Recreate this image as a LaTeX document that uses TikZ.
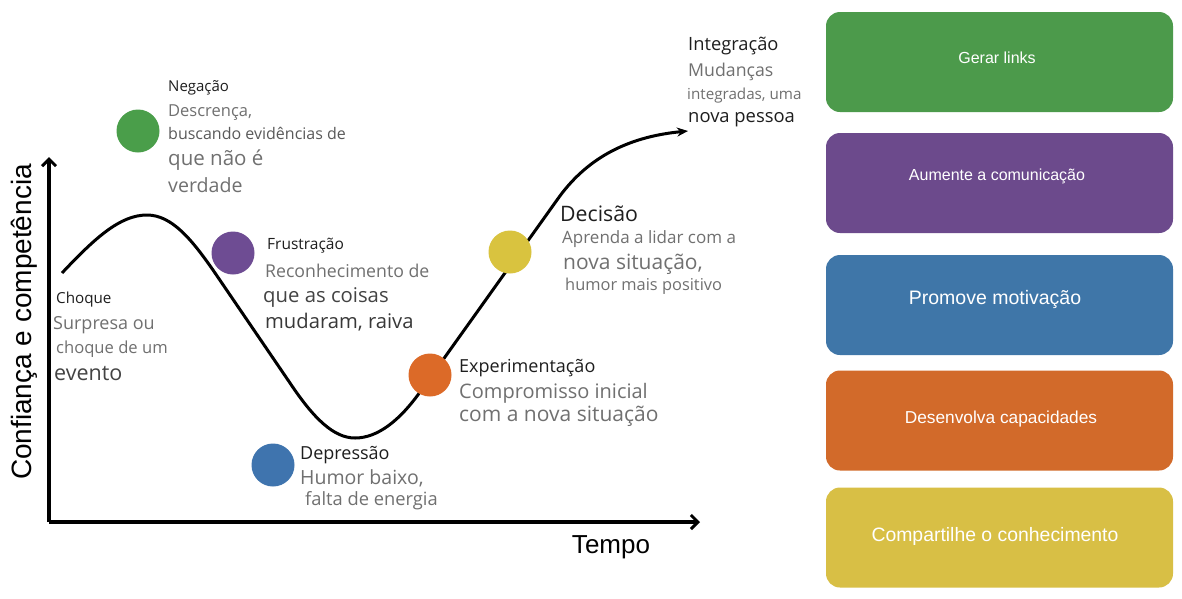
\documentclass[tikz,border=0pt]{standalone}
\usepackage{fontspec}
\setmainfont{Open Sans}
\newfontfamily\arialf{Liberation Sans}
\usetikzlibrary{arrows.meta}
\definecolor{cgreen}{HTML}{4C9A4B}
\definecolor{cpurple}{HTML}{6C4A8C}
\definecolor{cblue}{HTML}{3F76A8}
\definecolor{corange}{HTML}{D26A2A}
\definecolor{cyellow}{HTML}{D8BF45}
\definecolor{dgreen}{HTML}{4A9E4A}
\definecolor{dpurple}{HTML}{6E4C93}
\definecolor{dblue}{HTML}{3F74AE}
\definecolor{dorange}{HTML}{DC6A28}
\definecolor{dyellow}{HTML}{D9C33F}
\definecolor{titlec}{HTML}{1E1E1E}
\definecolor{descc}{HTML}{707070}
\newcommand\myfs[1]{\fontsize{#1}{#1}\selectfont}
\begin{document}
\begin{tikzpicture}[x=1pt,y=-1pt]
\useasboundingbox[fill=white] (0,0) rectangle (1182,598);
\tikzset{
  lbl/.style={anchor=west, inner sep=0pt, text=titlec},
  dsc/.style={anchor=west, inner sep=0pt, text=descc},
  dot/.style={circle, minimum size=43pt, inner sep=0pt},
  card/.style={rounded corners=14pt, minimum width=347pt, minimum height=100pt, inner sep=0pt},
  cardtxt/.style={text=white, inner sep=0pt, font=\arialf},
  axis/.style={line width=3.5pt, -{Straight Barb[length=7pt,width=14pt,line width=3pt]}},
  curve/.style={line width=3pt, line join=round, -{Stealth[length=11pt,width=9pt]}},
}
% right cards
\node[card, fill=cgreen]  (c1) at (999.5,62)  {};
\node[card, fill=cpurple] (c2) at (999.5,183) {};
\node[card, fill=cblue]   (c3) at (999.5,305) {};
\node[card, fill=corange] (c4) at (999.5,420.5) {};
\node[card, fill=cyellow] (c5) at (999.5,537.5) {};
\node[cardtxt] (t1) at (997,58)  {\myfs{16}Gerar links};
\node[cardtxt] (t2) at (997,176)  {\myfs{16}Aumente a comunicação};
\node[cardtxt] (t3) at (995,299)  {\myfs{19.5}Promove motivação};
\node[cardtxt] (t4) at (1001,419) {\myfs{17.3}Desenvolva capacidades};
\node[cardtxt] (t5) at (995,536)  {\myfs{19.4}Compartilhe o conhecimento};

% axes
\coordinate (o) at (49,522);
\coordinate (ytop) at (49,157);
\coordinate (xend) at (700,522);
\draw[axis] (o) -- (ytop);
\draw[axis] (o) -- (xend);
\node[rotate=90, inner sep=0pt, font=\arialf] (ylab) at (24,322) {\myfs{28}Confiança e competência};
\node[inner sep=0pt, font=\arialf] (xlab) at (611,547) {\myfs{26}Tempo};

% curve
\coordinate (cs) at (62,273);
\coordinate (cpeak) at (147,215);
\coordinate (cdown) at (213,270);
\coordinate (cdown2) at (290,383);
\coordinate (ctrough) at (355,438);
\coordinate (cup) at (420,392);
\coordinate (cup2) at (557,200);
\coordinate (ce) at (688,131);
\draw[curve] (cs) .. controls (95,238) and (120,215) .. (cpeak)
  .. controls (172,215) and (192,240) .. (cdown) -- (cdown2)
  .. controls (314,419) and (334,438) .. (ctrough)
  .. controls (378,438) and (400,420) .. (cup) -- (cup2)
  .. controls (585,160) and (625,137) .. (ce);

% circles
\node[dot, fill=dgreen]  (n1) at (138,131) {};
\node[dot, fill=dpurple] (n2) at (233,253) {};
\node[dot, fill=dblue]   (n3) at (273,465) {};
\node[dot, fill=dorange] (n4) at (430,375) {};
\node[dot, fill=dyellow] (n5) at (510,252) {};

% Negação
\node[lbl] (neg0) at (168,88)  {\myfs{15}Negação};
\node[dsc] (neg1) at (168,113) {\myfs{16.5}Descrença,};
\node[dsc, text=descc!80!black] (neg2) at (168,133) {\myfs{16}buscando evidências de};
\node[dsc] (neg3) at (168,160) {\myfs{20.5}que não é};
\node[dsc] (neg4) at (168,185) {\myfs{19.6}verdade};

% Frustração
\node[lbl] (fru0) at (267,246) {\myfs{15.5}Frustração};
\node[dsc] (fru1) at (265,271) {\myfs{17.7}Reconhecimento de};
\node[dsc, text=descc!60!black] (fru2) at (263,297) {\myfs{20.3}que as coisas};
\node[dsc, text=descc!50!black] (fru3) at (265,322) {\myfs{20.2}mudaram, raiva};

% Choque
\node[lbl] (cho0) at (56,300) {\myfs{15.2}Choque};
\node[dsc] (cho1) at (53,325) {\myfs{18}Surpresa ou};
\node[dsc] (cho2) at (56,349) {\myfs{16.6}choque de um};
\node[dsc, text=descc!60!black] (cho3) at (54,374) {\myfs{21.5}evento};

% Depressão
\node[lbl] (dep0) at (300,455) {\myfs{18}Depressão};
\node[dsc] (dep1) at (300,478) {\myfs{19.5}Humor baixo,};
\node[dsc] (dep2) at (305,501) {\myfs{18.3}falta de energia};

% Experimentação
\node[lbl] (exp0) at (459,368) {\myfs{18}Experimentação};
\node[dsc] (exp1) at (459,393) {\myfs{20}Compromisso inicial};
\node[dsc] (exp2) at (459,416) {\myfs{21}com a nova situação};

% Decisão
\node[lbl] (dec0) at (560,214) {\myfs{21.3}Decisão};
\node[dsc] (dec1) at (562,239) {\myfs{17}Aprenda a lidar com a};
\node[dsc] (dec2) at (563,264) {\myfs{21}nova situação,};
\node[dsc] (dec3) at (565,286) {\myfs{16.4}humor mais positivo};

% Integração
\node[lbl] (int0) at (688,46)  {\myfs{18.3}Integração};
\node[dsc] (int1) at (688,72)  {\myfs{17.7}Mudanças};
\node[dsc] (int2) at (687,96)  {\myfs{15.2}integradas, uma};
\node[lbl] (int3) at (688,120) {\myfs{18.4}nova pessoa};
\end{tikzpicture}
\end{document}
